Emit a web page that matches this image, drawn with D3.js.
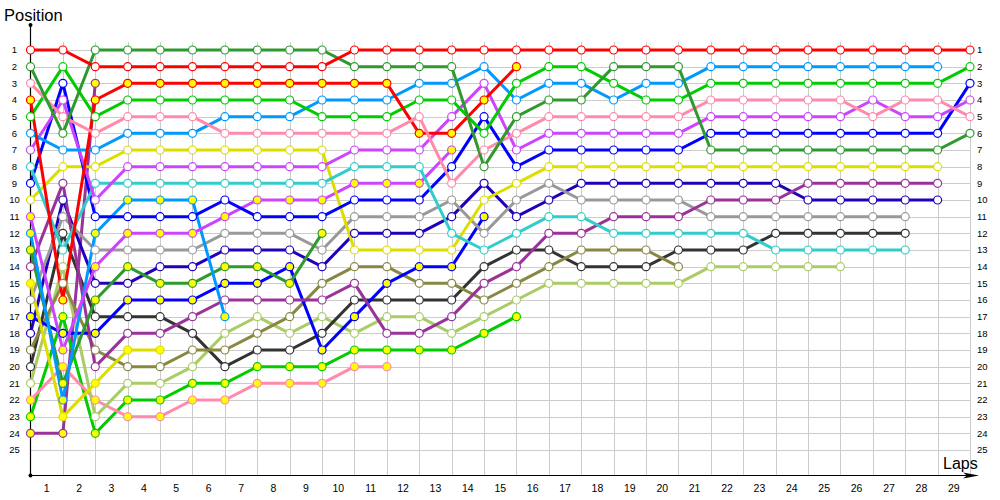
<!DOCTYPE html>
<html>
<head>
<meta charset="utf-8">
<script src="https://cdn.jsdelivr.net/npm/d3@7"></script>
<style>
  html, body { margin: 0; padding: 0; background: #fff; }
  svg { display: block; }
  text { font-family: "Liberation Sans", Arial, sans-serif; }
</style>
</head>
<body>
<svg id="chart" width="1000" height="500"></svg>
<script>
// ---- data ----
const lapTicks = d3.range(1, 30);          // 1..29 bottom labels
const positionTicks = d3.range(1, 26);     // 1..25 side labels

const driverColors = [
  "#ff0000", "#2e9a2e", "#ff8aab", "#ff0000", "#00cc00", "#0099ff",
  "#cc44ff", "#33cccc", "#0000ff", "#dddd00", "#cc44ff", "#0099ff",
  "#2e9a2e", "#993399", "#dddd00", "#999999", "#0000ff", "#2200bb",
  "#888844", "#333333", "#aacc66", "#ff8aab", "#00cc00", "#993399"
];

// true = retired (marker filled yellow)
const retired = [
  false, false, false, true, false, false,
  false, false, false, false, true, true,
  true, false, true, false, true, false,
  false, false, false, true, true, true
];

// position at each lap, starting from lap 0
const positions = [
  [1,1,2,2,2,2,2,2,2,2,1,1,1,1,1,1,1,1,1,1,1,1,1,1,1,1,1,1,1,1],
  [2,6,1,1,1,1,1,1,1,1,2,2,2,2,8,5,4,4,2,2,2,7,7,7,7,7,7,7,7,6],
  [3,5,6,5,5,5,6,6,6,6,6,6,5,9,7,6,5,5,5,5,5,4,4,4,4,4,5,4,4,5],
  [4,16,4,3,3,3,3,3,3,3,3,3,6,6,4,2],
  [5,2,5,4,4,4,4,4,4,5,5,5,4,4,6,3,2,2,3,4,4,3,3,3,3,3,3,3,3,2],
  [6,7,7,6,6,6,5,5,5,4,4,4,3,3,2,4,3,3,4,3,3,2,2,2,2,2,2,2,2],
  [7,4,10,8,8,8,8,8,8,8,7,7,7,5,3,7,6,6,6,6,6,5,5,5,5,5,4,5,5,4],
  [8,13,9,9,9,9,9,9,9,9,8,8,8,12,13,12,11,11,12,12,12,12,12,13,13,13,13,13],
  [9,3,11,11,11,11,10,11,11,11,10,10,10,8,5,8,7,7,7,7,7,6,6,6,6,6,6,6,6,3],
  [10,8,8,7,7,7,7,7,7,7,13,13,13,13,10,9,8,8,8,8,8,8,8,8,8,8,8,8,8],
  [11,19,14,12,12,12,11,10,10,10,9,9,9,7],
  [12,22,12,10,10,10,17],
  [13,21,16,14,15,15,14,14,15,12],
  [14,9,20,18,18,17,16,16,16,16,15,18,18,17,15,14,12,12,11,11,11,10,10,10,9,9,9,9,9],
  [15,23,21,19,19],
  [16,11,13,13,13,13,12,12,12,13,11,11,11,10,12,10,9,10,10,10,10,11,11,11,11,11,11,11],
  [17,18,18,16,16,16,15,15,14,19,17,15,14,14,11],
  [18,10,15,15,14,14,13,13,13,14,12,12,12,11,9,11,10,9,9,9,9,9,9,9,10,10,10,10,10],
  [19,15,19,20,20,19,19,18,17,15,14,14,15,15,16,15,14,13,13,13,14],
  [20,12,17,17,17,18,20,19,19,18,16,16,16,16,14,13,13,14,14,14,13,13,13,12,12,12,12,12],
  [21,14,23,21,21,20,18,17,18,17,18,17,17,18,17,16,15,15,15,15,15,14,14,14,14,14],
  [22,20,22,23,23,22,22,21,21,21,20,20],
  [23,17,24,22,22,21,21,20,20,20,19,19,19,19,18,17],
  [24,24,3]
];

// ---- chart ----
const svg = d3.select("#chart");
const x = d3.scaleLinear().domain([0, 29]).range([30.5, 970]);
const y = d3.scaleLinear().domain([1, 25]).range([50, 450]);
const axisY = 475;

// grid
const grid = svg.append("g").attr("stroke", "#cccccc").attr("stroke-width", 1).attr("shape-rendering", "crispEdges");
grid.selectAll("line.v").data(d3.range(1, 30)).join("line")
  .attr("x1", d => Math.round(x(d)) + 0.5).attr("x2", d => Math.round(x(d)) + 0.5)
  .attr("y1", 42).attr("y2", axisY);
grid.selectAll("line.h").data(positionTicks).join("line")
  .attr("x1", 30).attr("x2", x(29))
  .attr("y1", d => Math.round(y(d)) + 0.5).attr("y2", d => Math.round(y(d)) + 0.5);

// axes
const axes = svg.append("g");
axes.append("line").attr("x1", 30.5).attr("x2", 30.5).attr("y1", 25).attr("y2", axisY)
  .attr("stroke", "#000").attr("stroke-width", 1.2);
axes.append("line").attr("x1", 30).attr("x2", 972).attr("y1", axisY + 0.5).attr("y2", axisY + 0.5)
  .attr("stroke", "#000").attr("stroke-width", 1.2);
axes.append("circle").attr("cx", 30.5).attr("cy", 25).attr("r", 2).attr("fill", "#000");
axes.append("circle").attr("cx", 30.5).attr("cy", axisY + 0.5).attr("r", 2).attr("fill", "#000");
axes.append("path").attr("d", `M963,${axisY - 2.5} L979,${axisY + 0.5} L963,${axisY + 3.5} L967,${axisY + 0.5} Z`).attr("fill", "#000");

// bottom labels (between grid lines)
svg.append("g").selectAll("text").data(lapTicks).join("text")
  .attr("x", d => x(d - 0.5)).attr("y", 492)
  .attr("text-anchor", "middle").attr("font-size", 10.5).attr("fill", "#000")
  .text(d => d);

// side labels
svg.append("g").selectAll("text").data(positionTicks).join("text")
  .attr("x", 14.5).attr("y", d => y(d) + 3.3)
  .attr("text-anchor", "middle").attr("font-size", 9.5).attr("fill", "#000")
  .text(d => d);
svg.append("g").selectAll("text").data(positionTicks).join("text")
  .attr("x", 977).attr("y", d => y(d) + 3.3)
  .attr("text-anchor", "start").attr("font-size", 9.5).attr("fill", "#000")
  .text(d => d);

// titles
svg.append("text").attr("x", 4).attr("y", 21).attr("font-size", 16.5).attr("fill", "#000").text("Position");
svg.append("text").attr("x", 943).attr("y", 469).attr("font-size", 16).attr("fill", "#000").text("Laps");

// series
const series = positions.map((p, i) => ({
  color: driverColors[i],
  retired: retired[i],
  points: p.map((pos, lap) => ({ lap, pos }))
}));

const line = d3.line().x(d => x(d.lap)).y(d => y(d.pos));

const order = d3.range(series.length).reverse();
svg.append("g").selectAll("path").data(order.map(i => series[i])).join("path")
  .attr("d", d => line(d.points))
  .attr("fill", "none").attr("stroke", d => d.color).attr("stroke-width", 3)
  .attr("stroke-linejoin", "round");

const mk = svg.append("g");
order.forEach(i => {
  const s = series[i];
  mk.append("g").selectAll("circle").data(s.points).join("circle")
    .attr("cx", d => x(d.lap)).attr("cy", d => y(d.pos)).attr("r", 4)
    .attr("fill", s.retired ? "#ffff00" : "#ffffff")
    .attr("stroke", s.color).attr("stroke-width", 1.2);
});
</script>
</body>
</html>
